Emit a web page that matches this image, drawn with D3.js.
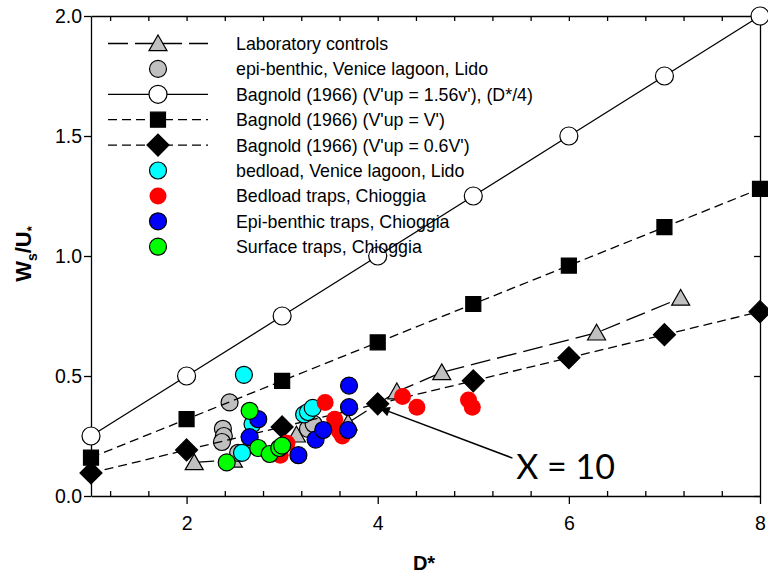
<!DOCTYPE html>
<html><head><meta charset="utf-8">
<script src="https://cdn.jsdelivr.net/npm/d3@7/dist/d3.min.js"></script>
<style>body{margin:0;background:#fff}svg{display:block}</style>
</head><body><svg id="c" width="768" height="575"></svg>
<script>
// ---- data ----
const bagX = [1, 2, 3, 4, 5, 6, 7, 8];
const bag156 = [0.25, 0.5, 0.75, 1.0, 1.25, 1.5, 1.75, 2.0];
const bagV = [0.16, 0.32, 0.48, 0.64, 0.80, 0.96, 1.12, 1.28];
const bag06 = [0.096, 0.192, 0.288, 0.384, 0.48, 0.576, 0.672, 0.768];

const labX = [2.08, 2.49, 3.15, 3.69, 4.2, 4.67, 6.29, 7.17];
const labY = [0.14, 0.15, 0.255, 0.305, 0.435, 0.515, 0.68, 0.825];

const lidoEpiX = [2.45, 2.38, 2.39, 2.37, 2.54, 3.27, 3.33];
const lidoEpiY = [0.39, 0.28, 0.25, 0.225, 0.18, 0.28, 0.30];

const lidoBedX = [2.6, 2.69, 2.58, 3.23, 3.27, 3.32];
const lidoBedY = [0.505, 0.30, 0.18, 0.34, 0.35, 0.367];

const chiBedX = [2.98, 3.05, 3.45, 3.55, 3.6, 3.63, 4.26, 4.41, 4.95, 4.99];
const chiBedY = [0.17, 0.22, 0.39, 0.32, 0.27, 0.25, 0.415, 0.37, 0.40, 0.37];

const chiEpiX = [2.75, 2.66, 3.17, 3.35, 3.43, 3.7, 3.7, 3.69];
const chiEpiY = [0.32, 0.245, 0.17, 0.235, 0.275, 0.46, 0.37, 0.275];

const chiSurfX = [2.66, 2.42, 2.75, 2.87, 2.97, 3.0];
const chiSurfY = [0.355, 0.14, 0.20, 0.175, 0.20, 0.21];

const xTicks = [2, 4, 6, 8];
const yTicks = [0, 0.5, 1.0, 1.5, 2.0];
const legendLabels = [
  "Laboratory controls",
  "epi-benthic, Venice lagoon, Lido",
  "Bagnold (1966) (V'up = 1.56v'), (D*/4)",
  "Bagnold (1966) (V'up = V')",
  "Bagnold (1966) (V'up = 0.6V')",
  "bedload, Venice lagoon, Lido",
  "Bedload traps, Chioggia",
  "Epi-benthic traps, Chioggia",
  "Surface traps, Chioggia"
];

// ---- chart ----
const svg = d3.select("#c");
const FONT = "'Liberation Sans', Arial, sans-serif";
const x = d3.scaleLinear().domain([1, 8]).range([91, 760]);
const y = d3.scaleLinear().domain([0, 2]).range([496, 16]);

const zip = (xs, ys) => xs.map((v, i) => [v, ys[i]]);

const shapes = {
  circle: r => `M${-r},0A${r},${r} 0 1,0 ${r},0A${r},${r} 0 1,0 ${-r},0Z`,
  square: s => `M${-s},${-s}H${s}V${s}H${-s}Z`,
  diamond: s => `M0,${-s}L${s},0L0,${s}L${-s},0Z`,
  triangle: s => `M0,${-s * 0.95}L${s},${s * 0.8}L${-s},${s * 0.8}Z`
};

const series = [
  {xs: labX, ys: labY, shape: "triangle", size: 9, fill: "#c0c0c0", stroke: "#000", line: "20,7"},
  {xs: lidoEpiX, ys: lidoEpiY, shape: "circle", size: 8.5, fill: "#c0c0c0", stroke: "#000"},
  {xs: bagX, ys: bag156, shape: "circle", size: 9, fill: "#fff", stroke: "#000", line: "none"},
  {xs: bagX, ys: bagV, shape: "square", size: 7.5, fill: "#000", stroke: "#000", line: "9,5"},
  {xs: bagX, ys: bag06, shape: "diamond", size: 11, fill: "#000", stroke: "#000", line: "9,5"},
  {xs: lidoBedX, ys: lidoBedY, shape: "circle", size: 8.5, fill: "#00ffff", stroke: "#000"},
  {xs: chiBedX, ys: chiBedY, shape: "circle", size: 8.5, fill: "#ff0000", stroke: "none"},
  {xs: chiEpiX, ys: chiEpiY, shape: "circle", size: 8.5, fill: "#0000ff", stroke: "#000"},
  {xs: chiSurfX, ys: chiSurfY, shape: "circle", size: 8.5, fill: "#00ff00", stroke: "#000"}
];

// axes
const gAx = svg.append("g").attr("font-family", FONT);
const minor = d3.range(1.2, 8.01, 0.4);
gAx.append("g").attr("transform", "translate(0,496)")
  .call(d3.axisBottom(x).tickValues(xTicks).tickSizeInner(8).tickSizeOuter(0).tickPadding(12).tickFormat(d3.format("d")));
gAx.append("g").attr("transform", "translate(0,496)")
  .call(d3.axisBottom(x).tickValues(minor.filter(v => Math.abs(v - Math.round(v / 2) * 2) > 0.01)).tickSize(-5).tickFormat(""))
  .select(".domain").remove();
gAx.append("g").attr("transform", "translate(0,16)")
  .call(d3.axisTop(x).tickValues(minor).tickSizeInner(-5).tickSizeOuter(0).tickFormat(""));
gAx.append("g").attr("transform", "translate(91,0)")
  .call(d3.axisLeft(y).tickValues(yTicks).tickSizeInner(7).tickSizeOuter(0).tickPadding(2).tickFormat(d3.format(".1f")));
gAx.append("g").attr("transform", "translate(760,0)")
  .call(d3.axisRight(y).tickValues(yTicks).tickSizeInner(-6).tickSizeOuter(0).tickFormat(""));
gAx.selectAll(".domain, .tick line").attr("stroke", "#000").attr("stroke-width", 1.3);
gAx.selectAll(".tick text").attr("font-size", 19.5).attr("fill", "#000");

// axis titles
svg.append("text").attr("x", 424).attr("y", 570).attr("text-anchor", "middle")
  .attr("font-family", FONT).attr("font-weight", "bold").attr("font-size", 20).text("D*");
const yt = svg.append("text").attr("transform", "translate(31,254) rotate(-90)")
  .attr("text-anchor", "middle").attr("font-family", FONT).attr("font-weight", "bold").attr("font-size", 22);
yt.append("tspan").text("W");
yt.append("tspan").attr("font-size", 14).attr("dy", 6).text("s");
yt.append("tspan").attr("dy", -6).text("/U");
yt.append("tspan").attr("font-size", 13).attr("dy", 5).text("*");

// lines and points, in legend order
const lineGen = d3.line().x(d => x(d[0])).y(d => y(d[1]));
const plot = svg.append("g");
series.forEach(s => {
  const pts = zip(s.xs, s.ys);
  if (s.line) {
    const sorted = pts.slice().sort((a, b) => a[0] - b[0]);
    plot.append("path").attr("d", lineGen(sorted)).attr("fill", "none")
      .attr("stroke", "#000").attr("stroke-width", 1.3)
      .attr("stroke-dasharray", s.line === "none" ? null : s.line);
  }
  plot.selectAll(null).data(pts).enter().append("path")
    .attr("transform", d => `translate(${x(d[0])},${y(d[1])})`)
    .attr("d", shapes[s.shape](s.size))
    .attr("fill", s.fill).attr("stroke", s.stroke).attr("stroke-width", 1.2);
});

// legend
const lg = svg.append("g").attr("font-family", FONT);
series.forEach((s, i) => {
  const cy = 43.5 + i * 25.4;
  if (s.line) {
    lg.append("line").attr("x1", 108).attr("x2", 208).attr("y1", cy).attr("y2", cy)
      .attr("stroke", "#000").attr("stroke-width", 1.3)
      .attr("stroke-dasharray", s.line === "none" ? null : s.line);
  }
  lg.append("path").attr("transform", `translate(158,${cy})`)
    .attr("d", shapes[s.shape](s.size))
    .attr("fill", s.fill).attr("stroke", s.stroke).attr("stroke-width", 1.2);
  lg.append("text").attr("x", 236).attr("y", cy).attr("dy", "0.36em")
    .attr("font-size", 17.8).attr("fill", "#000").text(legendLabels[i]);
});

// annotation
const arrowFrom = [5.41, 0.158], arrowTo = [4.03, 0.365];
svg.append("defs").append("marker").attr("id", "ah").attr("viewBox", "0 0 10 10")
  .attr("refX", 9).attr("refY", 5).attr("markerWidth", 14).attr("markerHeight", 10)
  .attr("markerUnits", "userSpaceOnUse").attr("orient", "auto")
  .append("path").attr("d", "M0,0L10,5L0,10Z").attr("fill", "#000");
svg.append("line").attr("x1", x(arrowFrom[0])).attr("y1", y(arrowFrom[1]))
  .attr("x2", x(arrowTo[0])).attr("y2", y(arrowTo[1]))
  .attr("stroke", "#000").attr("stroke-width", 1.5).attr("marker-end", "url(#ah)");
svg.append("text").attr("x", x(5.45)).attr("y", y(0.07)).attr("font-family", "Lato, 'Open Sans', sans-serif")
  .attr("font-size", 34).attr("fill", "#000").text("X = 10");
</script></body></html>
